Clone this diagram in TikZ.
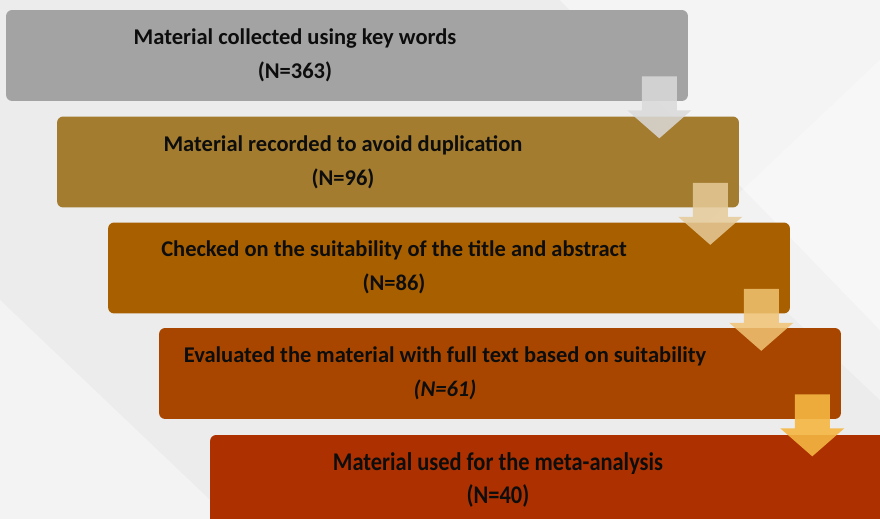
\documentclass[tikz,border=0pt]{standalone}
\usepackage{fontspec}
\setmainfont{Carlito}
\newfontfamily\narrowfont[FakeStretch=0.88]{Carlito}
\usepackage{tikz}
\usetikzlibrary{calc}

\definecolor{bgGray}{HTML}{ECECEC}
\definecolor{boxA}{HTML}{A3A3A3}
\definecolor{boxB}{HTML}{A37C2F}
\definecolor{boxC}{HTML}{A85F00}
\definecolor{boxD}{HTML}{A84600}
\definecolor{boxE}{HTML}{AD3100}
\definecolor{arrA}{HTML}{DADADA}
\definecolor{arrB}{HTML}{E6CB98}
\definecolor{arrC}{HTML}{F0C373}
\definecolor{arrD}{HTML}{F4B642}

\tikzset{
  pics/downarrow/.style={code={
    \fill (-17.5,0) -- (17.5,0) -- (17.5,34) -- (32,34)
      -- (0,62) -- (-32,34) -- (-17.5,34) -- cycle;
  }}
}

\begin{document}
\begin{tikzpicture}[x=0.02cm, y=-0.02cm,
    stepbox/.style={rectangle, rounded corners=3.5pt, inner sep=0pt,
      minimum width=13.64cm, minimum height=1.82cm},
    lbl/.style={align=center, text=black!95, inner sep=0pt,
      font=\bfseries\fontsize{12.8}{19.3}\selectfont}]
    \useasboundingbox (0,0) rectangle (880,519);
    \clip (0,0) rectangle (880,519);
    % background
    \fill[bgGray] (0,0) rectangle (880,519);
    \fill[white, opacity=.45] (560,0) -- (880,0) -- (880,330) -- cycle;
    \fill[white, opacity=.35] (880,60) -- (880,400) -- (700,230) -- cycle;
    \fill[white, opacity=.4] (0,300) -- (0,519) -- (230,519) -- cycle;
    % steps
    \node[stepbox, fill=boxA] (b1) at (347,55.5) {};
    \node[stepbox, fill=boxB] (b2) at (398,162) {};
    \node[stepbox, fill=boxC] (b3) at (449,268) {};
    \node[stepbox, fill=boxD] (b4) at (500,373.5) {};
    \node[stepbox, fill=boxE] (b5) at (551,480.5) {};
    \node[lbl] (t1) at (295,55) {Material collected using key words\\(N=363)};
    \node[lbl] (t2) at (343,162) {Material recorded to avoid duplication\\(N=96)};
    \node[lbl] (t3) at (394,267) {Checked on the suitability of the title and abstract\\(N=86)};
    \node[lbl] (t4) at (445,373) {Evaluated the material with full text based on suitability\\\textit{(N=61)}};
    \node[lbl, font=\narrowfont\bfseries\fontsize{14.5}{19.3}\selectfont]
      (t5) at (498,480) {Material used for the meta-analysis\\(N=40)};
    % arrows between steps
    \pic[fill=arrA, opacity=.85] at ($(b1.south east)+(-29,-25)$) {downarrow};
    \pic[fill=arrB, opacity=.85] at ($(b2.south east)+(-29,-25)$) {downarrow};
    \pic[fill=arrC, opacity=.85] at ($(b3.south east)+(-29,-25)$) {downarrow};
    \pic[fill=arrD, opacity=.9] at ($(b4.south east)+(-29,-25)$) {downarrow};
\end{tikzpicture}
\end{document}
